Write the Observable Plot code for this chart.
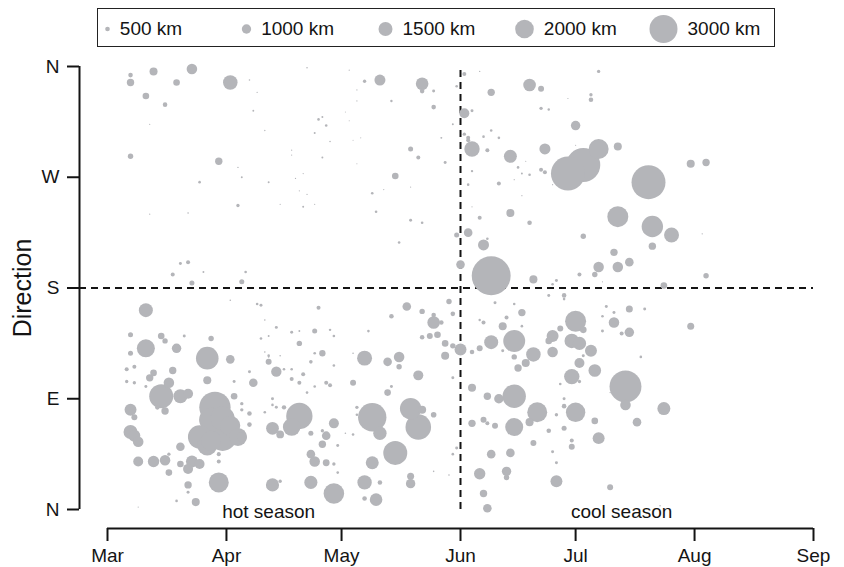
<!DOCTYPE html>
<html><head><meta charset="utf-8">
<script src="https://cdn.jsdelivr.net/npm/d3@7"></script>
<script src="https://cdn.jsdelivr.net/npm/@observablehq/plot@0.6"></script>
<style>
body{margin:0;background:#fff;font-family:"Liberation Sans",Arial,Helvetica,sans-serif;}
#wrap{position:relative;width:844px;height:567px;overflow:hidden;}
#legend{position:absolute;left:97px;top:8px;width:676px;height:37px;border:1.5px solid #222;}
#chart{position:absolute;left:0;top:50px;}
</style></head><body>
<div id="wrap"><div id="legend"></div><div id="chart"></div></div>
<script>
const year = 2021;

const dates = [
 "03-07","03-07","03-13","03-23","03-19","04-02","03-11","03-16","03-07","03-30","03-25","04-04","04-05","04-12","04-08","04-07","04-09","04-11","04-04","03-22","03-12","03-12","03-22","03-20","03-18","03-26","03-23","04-05","04-06",
 "04-22","05-03","05-07","05-11","05-22","05-22","05-25","05-14","05-25","05-05","05-05","04-25","04-26","04-27","04-24","04-28","05-03","05-02","05-04","05-06","04-18","04-18","04-26","05-05","05-19","05-21","05-28","05-27","05-30","05-31","05-15","04-19","04-21","04-20","04-22","04-15","04-21","04-24","05-09","05-12","05-19","05-10","05-19","05-22","05-16","05-31","06-01",
 "06-02","06-06","06-09","06-19","06-22","06-02","06-04","06-02","06-03","06-03","06-07","06-09","06-11","06-04","06-08","06-14","06-23","06-22","06-23","06-16","06-17","06-19","06-18","06-15","06-04","06-03","06-11","06-17","06-04","06-06","06-14","06-19","06-03","06-07","06-08","06-09","06-20",
 "07-07","07-05","07-05","06-29","06-22","06-24","07-01","07-01","07-07","07-12","07-03","06-29","07-20","07-31","08-04","07-12","07-21","07-26","07-21","07-03","08-03","07-11","07-07","07-12","07-15","07-06","07-02","06-26","06-25","08-04","07-24","07-08","06-25",
 "06-28","06-24","06-28","07-01","07-03","06-27","06-25","06-24","06-30","07-02","07-05","06-25","07-02","07-03","07-06","06-30","07-02","06-27","07-14","07-14","07-24","07-18","06-26","07-01","06-28","06-28","07-06","07-17","06-28","06-24","07-07","06-30","06-30","06-25","06-26","06-26","07-10","07-09","07-11","07-15","07-19","07-08","07-11","07-08","07-13","07-15","07-31","07-23","07-10",
 "06-04","06-08","06-11","06-15","06-04","06-07","06-08","06-10","06-15","06-21","06-19","06-20","06-09","06-14","06-06","06-13","06-13","06-07","06-08","06-15","06-09","06-12","06-17","06-13","06-07","06-06","06-06","06-04","06-10","06-15","06-12","06-15","06-16","06-18","06-20","06-17","05-31","05-30",
 "04-25","05-18","05-14","05-22","05-25","05-29","05-30","05-25","05-27","05-22","05-24","05-26","05-28","05-30","06-01","05-28","05-30","05-08","05-07","05-13","05-16","05-16","05-21","05-04","05-13","05-05","05-09","05-11","05-19","05-21","05-22","05-25","05-15","05-09","05-07","05-10","05-07","05-11","05-19","05-19","04-29","04-27","04-26","04-30","04-23","04-24","04-27","04-23","04-29","04-13","04-20","04-18","04-15","04-13","04-14","04-12","04-24","04-20","04-26","04-23","04-18","04-21","04-20","04-16","04-23","04-27","04-28","04-10","04-14","04-18","04-28","04-29","04-10","04-08","04-07","04-07","04-05",
 "04-09","04-11","05-04","04-22","04-24","04-18","04-16","04-29","05-14","05-05","04-14","04-26","05-04","05-02","04-29","04-15","04-30","05-25","05-29","04-20","04-12","04-24","04-12","04-15",
 "03-11","03-07","03-15","03-16","03-11","03-19","03-21","03-28","03-07","03-27","04-02","03-06","03-08","03-13","03-12","03-18","03-06","03-08","03-11","03-17","03-27","03-15","03-20","03-22","03-14","03-16","03-29","03-25","03-31","04-04","03-28","03-27","04-03","04-05","04-05","03-07","03-08","03-07","03-08","03-09","03-20","03-09","03-13","03-16","03-17","03-20","03-23","03-25","03-22","03-17","03-30","03-30","03-30","03-22","03-22","03-24","03-19","04-07","04-03","04-02","04-11","04-12","04-13","04-13","04-11","03-09",
 "03-31","03-28","04-02"
];

const directions = [
 353,347,356,358,347,347,336,329,287,283,266,247,270,266,324,349,339,308,278,241,313,240,201,200,191,193,184,185,193,
 359,357,348,349,346,340,340,332,327,341,332,317,319,312,306,299,316,323,300,302,292,288,286,281,293,286,282,302,313,344,271,269,273,259,256,248,246,248,257,260,262,242,235,233,217,223,199,
 354,356,339,345,342,322,324,305,302,300,303,308,302,293,292,287,293,276,274,278,273,272,283,268,275,264,265,255,246,237,241,233,225,215,220,190,187,
 356,337,333,334,326,325,312,296,293,295,280,273,266,281,282,238,230,223,214,222,224,209,197,197,201,191,191,186,183,190,182,185,264,
 174,174,171,153,146,147,141,137,137,135,129,128,119,125,113,108,104,102,100,85,82,124,77,79,84,90,72,71,66,64,58,56,51,47,38,23,18,165,160,163,163,157,152,145,143,144,149,3,95,
 99,92,90,92,70,73,70,68,67,79,71,54,45,46,29,31,26,13,1,137,136,149,160,156,152,154,131,128,168,167,129,124,115,119,126,149,50,45,
 164,165,157,161,158,169,159,152,152,140,141,142,135,133,130,125,107,145,123,120,124,116,109,103,95,83,75,62,82,67,81,77,46,38,22,8,9,22,27,21,70,60,53,52,45,39,38,22,13,20,76,67,61,66,112,120,145,135,127,120,106,110,103,83,62,103,101,166,148,144,146,141,139,103,78,69,59,
 167,154,127,95,100,114,114,117,100,77,83,64,61,62,37,23,30,31,28,145,141,127,125,125,
 162,142,141,137,131,131,141,139,127,123,122,114,116,111,107,113,104,103,100,103,105,92,92,94,83,80,83,59,59,59,73,52,92,86,81,81,75,63,60,55,51,39,39,40,45,37,39,37,33,30,45,39,22,20,14,6,7,112,104,170,128,124,90,85,79,2,
 74,56,68
];

const distances = [
 490,790,860,1130,710,1560,710,490,580,790,280,360,210,210,200,170,150,150,150,170,130,130,430,320,430,210,540,540,280,
 170,130,360,1180,1350,490,320,260,490,130,130,280,210,280,210,170,110,110,110,110,130,130,210,110,540,430,320,210,210,280,710,130,130,130,130,130,210,130,280,130,130,280,320,280,280,540,920,
 430,150,790,1350,640,1070,320,360,430,430,280,280,280,1650,430,1390,1180,430,430,280,210,280,130,130,260,280,430,130,130,430,860,490,920,1180,280,4170,860,
 360,360,490,130,360,260,1010,130,2140,860,3640,3640,3640,860,790,2250,2290,1600,790,580,150,790,1130,1130,920,580,430,320,280,580,710,130,130,
 490,320,280,2250,710,640,1280,710,1560,1430,1280,1130,1070,320,1350,1650,360,280,3420,1130,1390,280,360,2080,490,320,710,920,540,490,1280,430,640,320,320,1280,640,320,320,750,320,280,1130,320,430,1010,750,170,150,
 860,790,1010,2500,790,640,430,640,1930,2140,860,640,920,920,1220,1010,580,790,920,2350,1500,860,790,430,430,260,640,490,320,280,320,580,790,860,1560,280,320,280,
 430,920,490,580,490,580,490,1350,490,490,640,710,710,580,1280,860,320,280,1600,920,1130,580,1070,640,710,360,3040,1430,2290,2740,860,600,2570,1390,1540,1350,490,490,750,1010,1070,920,790,320,920,1130,730,1410,2200,1410,2820,1880,830,1370,1110,640,540,580,680,390,430,430,430,470,540,430,430,320,320,320,260,280,280,920,490,490,1070,
 280,170,170,280,280,280,280,280,320,280,320,360,280,170,360,360,280,170,170,210,210,280,280,170,
 1500,540,710,580,1930,1010,320,580,540,2420,920,430,430,710,790,790,360,360,320,1130,860,2570,1500,1070,490,790,3360,2500,3000,1930,2570,2140,710,360,360,1280,640,1500,1280,1130,920,1070,1220,1130,360,710,1280,1070,1070,710,430,430,2140,790,320,860,280,320,320,170,170,170,320,280,280,130,
 2570,2140,2140
];

const monthTicks = ["03-01","04-01","05-01","06-01","07-01","08-01","09-01"];
const directionTicks = [0, 90, 180, 270, 360];
const directionLabels = ["N", "E", "S", "W", "N"];
const legendKm = [500, 1000, 1500, 2000, 3000];
const seasonLabels = ["hot season", "cool season"];
const seasonDates = ["04-12", "07-13"];
const dividerDate = "06-01";
const dividerDirection = 180;

const toDate = md => { const [m, d] = md.split("-").map(Number); return new Date(Date.UTC(year, m - 1, d)); };
const n = Math.min(dates.length, directions.length, distances.length);
if (dates.length !== directions.length || dates.length !== distances.length) console.warn("length mismatch", dates.length, directions.length, distances.length);
const points = d3.range(n).map(i => ({date: toDate(dates[i]), dir: directions[i], km: distances[i]}));

const FONT = '"Liberation Sans", Arial, Helvetica, sans-serif';
const GRAY = "#b4b5b9";
const INK = "#141414";
const rOpts = {type: "linear", domain: [0, 3000], range: [0, 14]};
const rScale = Plot.scale({r: rOpts});
const start = toDate(monthTicks[0]), end = toDate(monthTicks[monthTicks.length - 1]);

const chart = Plot.plot({
  width: 844, height: 517,
  marginTop: 16, marginBottom: 58, marginLeft: 107, marginRight: 31,
  style: {fontFamily: FONT, fontSize: "19px", color: INK, background: "transparent", overflow: "visible"},
  x: {type: "utc", domain: [start, end]},
  y: {domain: [0, 360]},
  r: rOpts,
  marks: [
    Plot.ruleY([dividerDirection], {stroke: INK, strokeWidth: 2, strokeDasharray: "7,5", insetLeft: -28}),
    Plot.ruleX([toDate(dividerDate)], {y1: () => 0, y2: () => 360, stroke: INK, strokeWidth: 2, strokeDasharray: "7,5"}),
    Plot.dot(points, {x: "date", y: "dir", r: "km", fill: GRAY, stroke: null}),
    Plot.ruleX([start], {y1: () => 0, y2: () => 360, dx: -28, stroke: INK, strokeWidth: 2}),
    Plot.ruleY([0], {x1: () => start, x2: () => end, dy: 19, stroke: INK, strokeWidth: 2}),
    Plot.axisX({ticks: monthTicks.map(toDate), tickFormat: d3.utcFormat("%b"), dy: 19, tickSize: 13, tickPadding: 7, strokeWidth: 2, stroke: INK, label: null}),
    Plot.axisY({ticks: directionTicks, tickFormat: d => directionLabels[directionTicks.indexOf(d)], dx: -28, tickSize: 12, tickPadding: 8, strokeWidth: 2, stroke: INK, label: null}),
    Plot.text(seasonLabels, {x: (d, i) => toDate(seasonDates[i]), y: () => 0, text: d => d, dy: 2, fontSize: 19, fill: INK}),
    Plot.text(["Direction"], {frameAnchor: "left", textAnchor: "middle", y: () => 180, text: d => d, rotate: -90, dx: -85, fontSize: 25, fill: INK})
  ]
});
document.getElementById("chart").appendChild(chart);

const legendPlot = Plot.plot({
  width: 676, height: 37, marginTop: 0, marginBottom: 0, marginLeft: 0, marginRight: 0,
  style: {fontFamily: FONT, fontSize: "19px", color: INK, background: "transparent", overflow: "visible"},
  x: {type: "point", domain: legendKm, range: [8, 565], padding: 0, axis: null},
  r: rOpts,
  marks: [
    Plot.dot(legendKm, {x: d => d, r: d => d, fill: GRAY, stroke: null, frameAnchor: "middle", dy: 1}),
    ...legendKm.map(k => Plot.text([k], {x: d => d, text: d => `${d} km`, textAnchor: "start", dx: rScale.apply(k) + 10, dy: 1, fontSize: 19, fill: INK, frameAnchor: "middle"}))
  ]
});
document.getElementById("legend").appendChild(legendPlot);
</script>
</body></html>
